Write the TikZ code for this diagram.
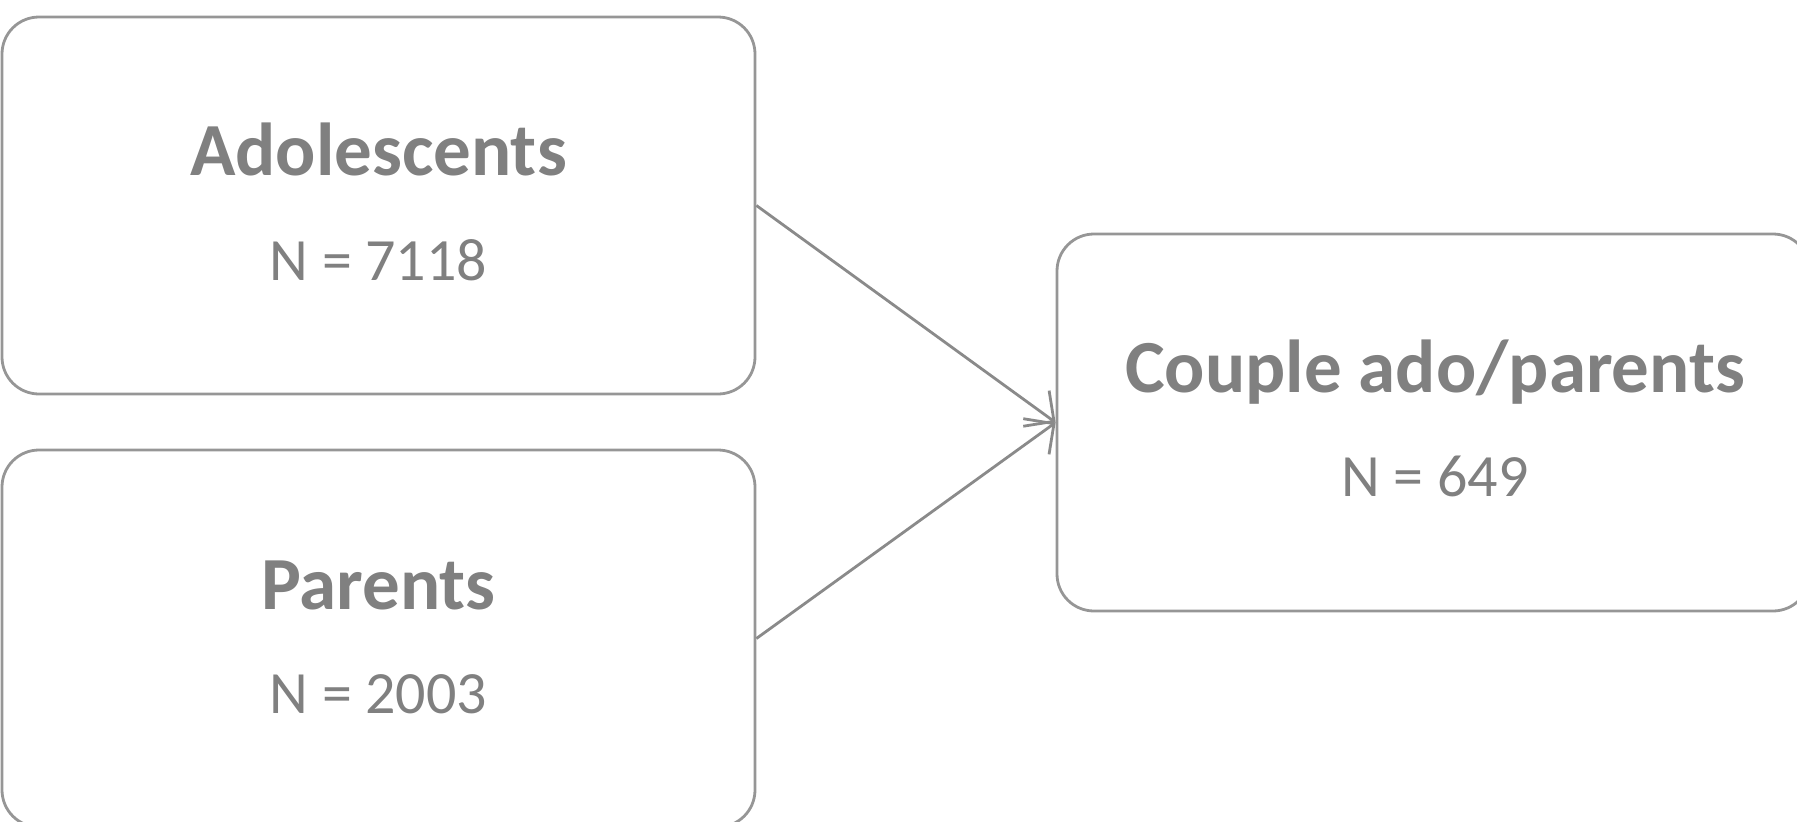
\documentclass[tikz,border=0pt]{standalone}
\usepackage{fontspec}
\setmainfont{Carlito}
\usetikzlibrary{arrows.meta}
\definecolor{txt}{RGB}{128,128,128}
\definecolor{brd}{RGB}{150,150,150}
\definecolor{ln}{RGB}{138,138,138}
\tikzset{
  box/.style={draw=brd, line width=2.8pt, rounded corners=37pt, minimum width=753pt, minimum height=377pt, inner sep=0pt},
  title/.style={text=txt, font=\fontsize{75}{80}\selectfont\bfseries, anchor=base},
  count/.style={text=txt, font=\fontsize{60}{66}\selectfont, anchor=base},
  conn/.style={draw=ln, line width=2.8pt, -{Straight Barb[length=22pt,width=44pt]}}
}
\begin{document}
\begin{tikzpicture}[x=1pt,y=-1pt]
\useasboundingbox (0,0) rectangle (1797,822);
\node[box] (adol) at (378.5,205.5) {};
\node[box] (par) at (378.5,638.5) {};
\node[box] (cpl) at (1433.5,422.5) {};
\node[title] (adolT) at (378.5,175) {Adolescents};
\node[count] (adolN) at (378.5,280) {N = 7118};
\node[title] (parT) at (378.5,609) {Parents};
\node[count] (parN) at (378.5,713) {N = 2003};
\node[title] (cplT) at (1435,392) {Couple ado/parents};
\node[count] (cplN) at (1435,496) {N = 649};
\draw[conn] (adol.east) -- (cpl.west);
\draw[conn] (par.east) -- (cpl.west);
\end{tikzpicture}
\end{document}
